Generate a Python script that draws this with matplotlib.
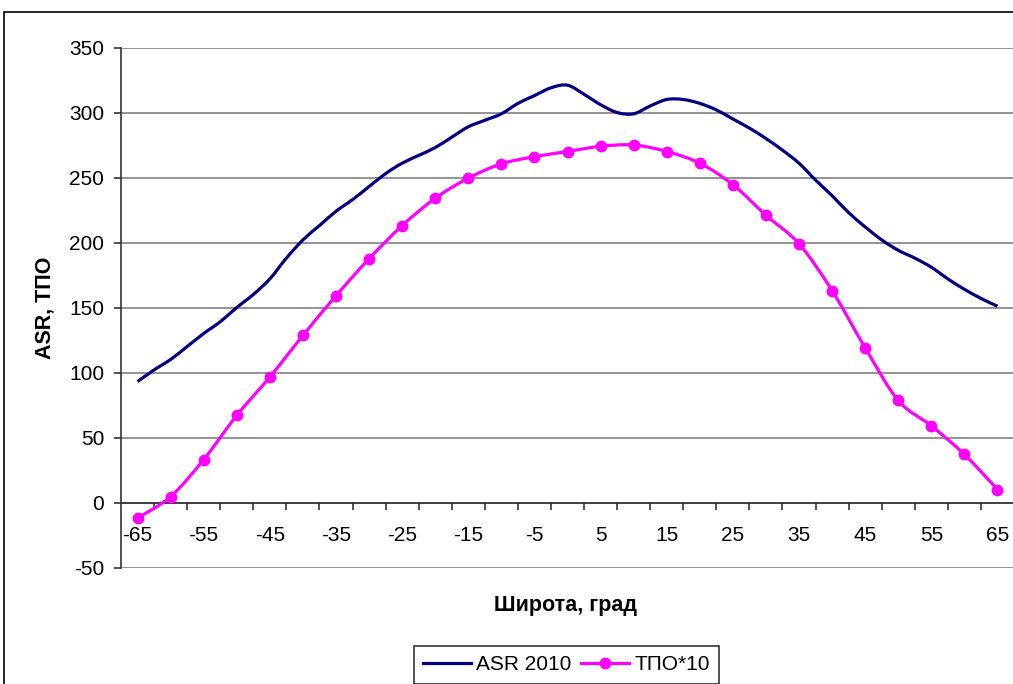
import matplotlib
matplotlib.use("Agg")
import matplotlib.pyplot as plt
from matplotlib.path import Path
from matplotlib.patches import PathPatch, Rectangle
from matplotlib.lines import Line2D
import numpy as np

plt.rcParams['font.family'] = ['Liberation Sans', 'DejaVu Sans']
plt.rcParams['axes.unicode_minus'] = False

# ASR 2010, every 2.5 degrees of latitude
asr_lat = [-65, -62.5, -60, -57.5, -55, -52.5, -50, -47.5, -45, -42.5, -40,
           -37.5, -35, -32.5, -30, -27.5, -25, -22.5, -20, -17.5, -15, -12.5,
           -10, -7.5, -5, -2.5, 0, 2.5, 5, 7.5, 10, 12.5, 15, 17.5, 20, 22.5,
           25, 27.5, 30, 32.5, 35, 37.5, 40, 42.5, 45, 47.5, 50, 52.5, 55,
           57.5, 60, 62.5, 65]
asr_val = [93, 102, 110, 120, 130, 139, 150, 160, 172, 188, 202,
           213, 224, 233, 243, 253, 261, 267, 273, 281, 289, 294,
           299, 307, 313, 319, 321, 314, 306, 300, 299, 305, 310, 310, 307, 302,
           295, 288, 280, 271, 261, 248, 236, 223, 212, 202, 194, 188, 181,
           172, 164, 157, 151]

# ТПО scaled by 10, every 5 degrees
tpo_lat = [-65, -60, -55, -50, -45, -40, -35, -30, -25, -20, -15, -10, -5, 0,
           5, 10, 15, 20, 25, 30, 35, 40, 45, 50, 55, 60, 65]
tpo_val = [-12, 4.5, 33, 67, 96.5, 128.5, 159, 187.5, 213, 234, 249.5, 260.5,
           266, 270, 274, 275, 270, 261, 244.5, 221, 199, 163, 119, 78.5, 59,
           37, 10]

y_ticks = [-50, 0, 50, 100, 150, 200, 250, 300, 350]
x_labels = [-65, -55, -45, -35, -25, -15, -5, 5, 15, 25, 35, 45, 55, 65]

ASR_COLOR = '#000080'
TPO_COLOR = '#FF00FF'
TICK_SIZE = 15


def smooth_path(xs, ys):
    """Bezier path through the points (cardinal spline, like a smoothed line)."""
    pts = np.column_stack([xs, ys]).astype(float)
    n = len(pts)
    verts = [pts[0]]
    codes = [Path.MOVETO]
    for i in range(n - 1):
        p0 = pts[i - 1] if i > 0 else pts[i]
        p1 = pts[i]
        p2 = pts[i + 1]
        p3 = pts[i + 2] if i + 2 < n else pts[i + 1]
        c1 = p1 + (p2 - p0) / 6.0
        c2 = p2 - (p3 - p1) / 6.0
        verts += [c1, c2, p2]
        codes += [Path.CURVE4] * 3
    return Path(verts, codes)


fig = plt.figure(figsize=(10.13, 6.84), dpi=100)
W, H = 1013.0, 684.0
ax = fig.add_axes([121 / W, (H - 567.5) / H, 893 / W, (567.5 - 47.5) / H])

ax.set_xlim(-67.5, 67.5)
ax.set_ylim(-50, 350)

# grid
for v in y_ticks:
    ax.axhline(v, color='#808080', lw=1.2, zorder=1)

ax.add_patch(PathPatch(smooth_path(asr_lat, asr_val), fill=False,
                       edgecolor=ASR_COLOR, lw=2.3, capstyle='butt',
                       joinstyle='round', zorder=3))
ax.add_patch(PathPatch(smooth_path(tpo_lat, tpo_val), fill=False,
                       edgecolor=TPO_COLOR, lw=2.3, capstyle='butt',
                       joinstyle='round', zorder=4))
ax.plot(tpo_lat, tpo_val, 'o', color=TPO_COLOR, ms=7.5, zorder=5,
        clip_on=False)

for s in ['top', 'right']:
    ax.spines[s].set_visible(False)
ax.spines['left'].set_color('#333333')
ax.spines['left'].set_linewidth(1.2)

ax.set_yticks(y_ticks)
ax.tick_params(axis='y', length=5, width=1.2, color='#333333', pad=7,
               labelsize=TICK_SIZE)

# category axis crossing at zero: labels every 10 degrees, ticks between categories
ax.set_xticks(x_labels)
ax.set_xticklabels([str(v) for v in x_labels])
ax.set_xticks(np.arange(-62.5, 65, 5), minor=True)
ax.tick_params(axis='x', which='major', length=0, pad=17, labelsize=TICK_SIZE)
ax.tick_params(axis='x', which='minor', length=5, width=1.2, color='#333333',
               direction='out')
ax.spines['bottom'].set_position(('data', 0))
ax.spines['bottom'].set_color('#333333')
ax.spines['bottom'].set_linewidth(1.2)
ax.spines['bottom'].set_zorder(2)

fig.text(45 / W, 1 - 308 / H, 'ASR, ТПО', rotation=90, ha='center',
         va='center', fontsize=15.5, fontweight='bold')
fig.text(566 / W, 1 - 606 / H, 'Широта, град', ha='center', va='center',
         fontsize=15.5, fontweight='bold')

handles = [Line2D([], [], color=ASR_COLOR, lw=2.3),
           Line2D([], [], color=TPO_COLOR, lw=2.3, marker='o', ms=7.5)]
leg = fig.legend(handles, ['ASR 2010', 'ТПО*10'], loc='upper left',
                 bbox_to_anchor=(414 / W, 1 - 646 / H), ncol=2,
                 fontsize=TICK_SIZE, frameon=True, fancybox=False,
                 shadow=False, handlelength=2.3, handletextpad=0.25,
                 columnspacing=0.45, borderpad=0.45, borderaxespad=0)
leg.get_frame().set_edgecolor('black')
leg.get_frame().set_linewidth(1.2)

# chart-area frame
fig.patches.append(Rectangle((4 / W, -0.1), 1.2, 1 - 12 / H + 0.1,
                             transform=fig.transFigure, fill=False,
                             edgecolor='black', lw=1.2))

fig.savefig('out.png', dpi=100)
